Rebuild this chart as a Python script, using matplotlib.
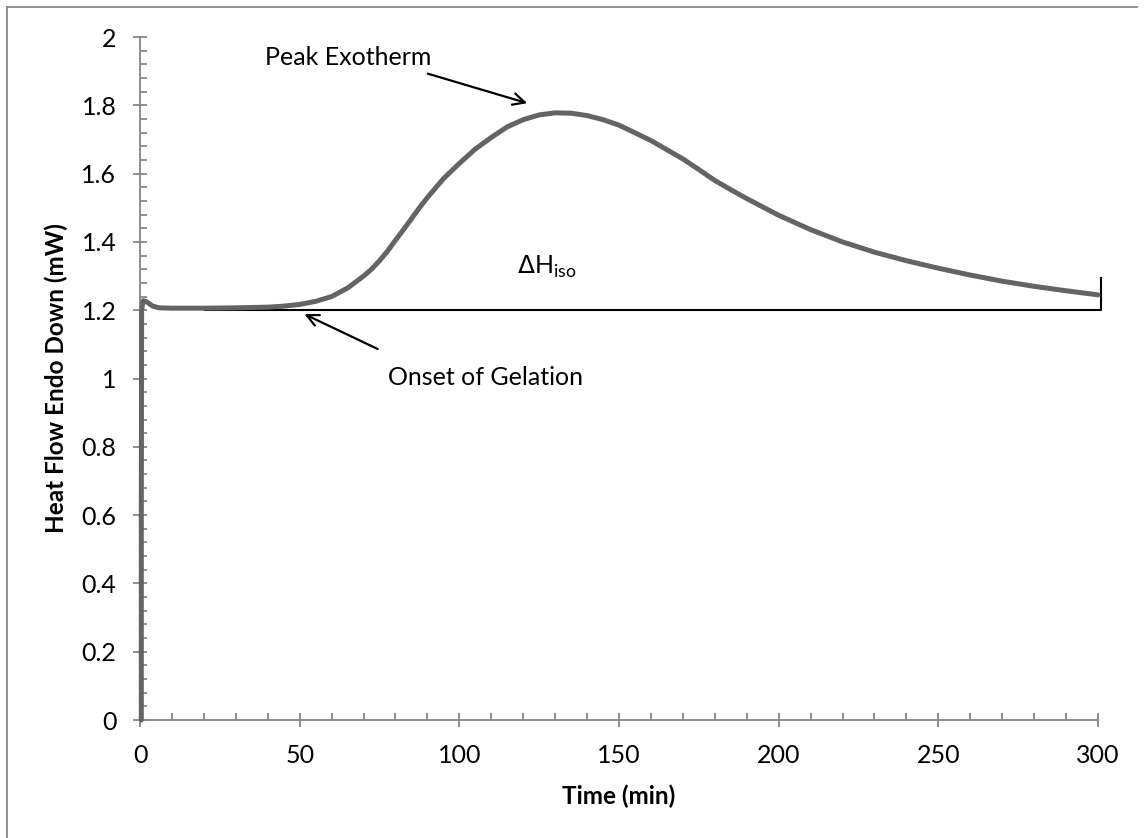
import matplotlib.pyplot as plt
from matplotlib.ticker import MultipleLocator
from matplotlib.lines import Line2D

plt.rcParams['font.family'] = ['Lato', 'DejaVu Sans']

# isothermal DSC trace
time_min = [0.4, 0.4, 0.5, 1.0, 2, 4, 6, 10, 20, 30, 40, 45, 50, 55, 60, 65, 70, 72.5,
            75, 77.5, 80, 82.5, 85, 87.5, 90, 95, 100, 105, 110, 115, 120, 125, 130,
            135, 140, 145, 150, 160, 170, 175, 180, 185, 190, 200, 210, 220, 230, 240,
            250, 260, 270, 280, 290, 300]
heat_flow = [0, 0.60, 1.20, 1.228, 1.225, 1.212, 1.207, 1.206, 1.206, 1.207, 1.209,
             1.212, 1.217, 1.226, 1.240, 1.265, 1.300, 1.320, 1.345, 1.373, 1.405,
             1.436, 1.468, 1.500, 1.530, 1.585, 1.630, 1.672, 1.706, 1.737, 1.758,
             1.772, 1.778, 1.777, 1.770, 1.758, 1.742, 1.697, 1.643, 1.612, 1.580,
             1.553, 1.527, 1.478, 1.436, 1.400, 1.370, 1.345, 1.323, 1.303, 1.285,
             1.270, 1.257, 1.245]

# integration baseline for the exotherm
base_x = [20.4, 301, 301]
base_y = [1.2, 1.2, 1.293]

fig = plt.figure(figsize=(11.44, 8.38), dpi=100)
ax = fig.add_axes([0.1224, 0.1408, 0.8374, 0.8150])

ax.plot(time_min, heat_flow, color='#646464', lw=3.6, solid_joinstyle='round',
        solid_capstyle='round', clip_on=False, zorder=3)
ax.plot(base_x, base_y, color='black', lw=1.5, clip_on=False, zorder=2)

ax.set_xlim(0, 300)
ax.set_ylim(0, 2)
ax.xaxis.set_major_locator(MultipleLocator(50))
ax.xaxis.set_minor_locator(MultipleLocator(10))
ax.yaxis.set_major_locator(MultipleLocator(0.2))
ax.yaxis.set_minor_locator(MultipleLocator(0.04))
ax.yaxis.set_major_formatter(plt.FuncFormatter(lambda v, p: f'{v:g}'))

axis_gray = '#868686'
for side in ['top', 'right']:
    ax.spines[side].set_visible(False)
for side in ['left', 'bottom']:
    ax.spines[side].set_color(axis_gray)
    ax.spines[side].set_linewidth(1.3)
ax.tick_params(which='major', direction='inout', length=10, width=1.3,
               color=axis_gray, labelsize=18, labelcolor='black', pad=12)
ax.tick_params(which='minor', direction='in', length=5, width=1.3, color=axis_gray)

ax.set_xlabel('Time (min)', fontsize=17.5, fontweight='bold')
ax.set_ylabel('Heat Flow Endo Down (mW)', fontsize=17.5, fontweight='bold')
ax.xaxis.set_label_coords(0.5, -0.094)
ax.yaxis.set_label_coords(-0.075, 0.5)

arrow = dict(arrowstyle='->,head_length=0.85,head_width=0.42', color='black', lw=1.6)
ax.annotate('', xy=(122.1, 1.804), xytext=(89.3, 1.895), arrowprops=arrow)
ax.text(39.1, 1.941, 'Peak Exotherm', fontsize=18, ha='left', va='center')
ax.annotate('', xy=(50.7, 1.192), xytext=(75.2, 1.083), arrowprops=arrow)
ax.text(77.7, 1.004, 'Onset of Gelation', fontsize=18, ha='left', va='center')
ax.text(118, 1.326, r'$\Delta$H$_{\mathregular{iso}}$', fontsize=18, ha='left', va='center')

# chart area outline
fig.add_artist(Line2D([0.0061, 0.0061], [0, 0.9913], transform=fig.transFigure,
                      color='#868686', lw=1.3))
fig.add_artist(Line2D([0.0061, 0.9935], [0.9913, 0.9913], transform=fig.transFigure,
                      color='#868686', lw=1.3))

fig.savefig('out.png', dpi=100)
